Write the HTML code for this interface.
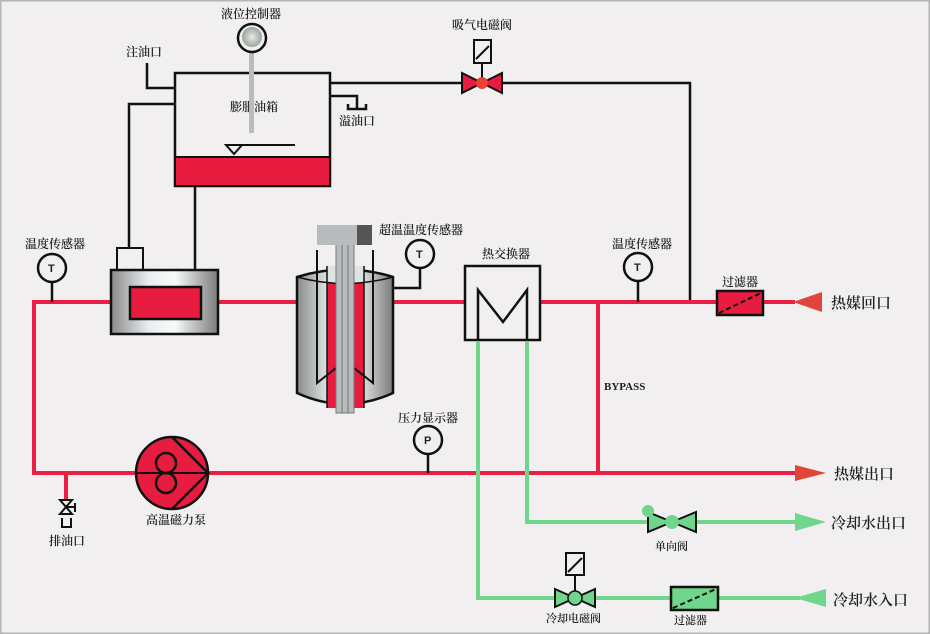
<!DOCTYPE html>
<html><head><meta charset="utf-8"><style>
html,body{margin:0;padding:0;background:#f1eff0}
svg{display:block}
text{font-family:"Liberation Serif","Noto Serif CJK SC","Noto Sans CJK SC",serif;fill:#222;font-weight:600}
</style></head><body>
<svg width="930" height="634" viewBox="0 0 930 634" xmlns="http://www.w3.org/2000/svg">
<defs>
<linearGradient id="met" x1="0" y1="0" x2="1" y2="0">
<stop offset="0" stop-color="#8a8a8a"/><stop offset="0.35" stop-color="#e8eef0"/><stop offset="0.6" stop-color="#f8fbfb"/><stop offset="1" stop-color="#7a7a7a"/>
</linearGradient>
<radialGradient id="dial"><stop offset="0" stop-color="#e8ece8"/><stop offset="1" stop-color="#9aa69a"/></radialGradient>
</defs>
<rect x="0" y="0" width="930" height="634" fill="#f1eff0"/>
<rect x="0.5" y="0.5" width="929" height="633" fill="none" stroke="#b5b5b5" stroke-width="2"/>

<g stroke="#111" stroke-width="2.5" fill="none">
<polyline points="147,63 147,88 175,88"/>
<polyline points="175,104 129,104 129,248"/>
<line x1="195" y1="186" x2="195" y2="270"/>
<polyline points="330,83 690,83 690,302"/>
<polyline points="330,96 357,96 357,108"/>
<polyline points="348,104 348,109 366,109 366,104"/>
</g>
<rect x="175" y="73" width="155" height="113" fill="#f1eff0" stroke="#111" stroke-width="2.5"/>
<rect x="176" y="157" width="153" height="28" fill="#e81c3f"/>
<line x1="175" y1="157" x2="330" y2="157" stroke="#111" stroke-width="2"/>
<line x1="226" y1="145" x2="295" y2="145" stroke="#111" stroke-width="2"/>
<polygon points="226,145 242,145 234,154" fill="none" stroke="#111" stroke-width="2"/>
<text x="230" y="111" font-size="12">膨胀油箱</text>
<rect x="249" y="48" width="5" height="85" fill="#bbb"/>
<circle cx="252" cy="38" r="14" fill="#f1eff0" stroke="#111" stroke-width="2.5"/>
<circle cx="252" cy="37" r="10" fill="url(#dial)"/>
<text x="221" y="18" font-size="12">液位控制器</text>
<text x="126" y="56" font-size="12">注油口</text>
<text x="339" y="125" font-size="12">溢油口</text>

<g stroke="#ea1f43" stroke-width="4" fill="none">
<polyline points="110,302 34,302 34,473 135,473"/>
<line x1="218" y1="302" x2="297" y2="302"/>
<line x1="393" y1="302" x2="465" y2="302"/>
<line x1="540" y1="302" x2="717" y2="302"/>
<line x1="763" y1="302" x2="795" y2="302"/>
<line x1="208" y1="473" x2="800" y2="473"/>
<line x1="598" y1="302" x2="598" y2="473"/>
<line x1="66" y1="473" x2="66" y2="500"/>
</g>
<polygon points="793,302 822,292 822,312" fill="#e0453a"/>
<polygon points="795,465 795,481 826,473" fill="#e0453a"/>
<text x="831" y="308" font-size="15">热媒回口</text>
<text x="834" y="479" font-size="15">热媒出口</text>

<rect x="117" y="248" width="26" height="22" fill="#f1eff0" stroke="#111" stroke-width="2"/>
<rect x="111" y="270" width="107" height="64" fill="url(#met)" stroke="#111" stroke-width="2.5"/>
<rect x="130" y="287" width="71" height="32" fill="#e81c3f" stroke="#111" stroke-width="2.5"/>

<path d="M297,277 Q345,262 393,277 L393,393 Q345,415 297,393 Z" fill="url(#met)" stroke="#111" stroke-width="2.5"/>
<rect x="327" y="283" width="37" height="125" fill="#e81c3f"/>
<rect x="327" y="266" width="37" height="17" fill="#dfe3e4"/>
<path d="M297,277 Q345,290 393,277" fill="none" stroke="#111" stroke-width="1.5"/>
<line x1="327" y1="266" x2="327" y2="408" stroke="#111" stroke-width="1.5"/>
<line x1="364" y1="266" x2="364" y2="408" stroke="#111" stroke-width="1.5"/>
<g stroke="#111" stroke-width="2" fill="none">
<polyline points="317,250 317,383 336,368"/>
<polyline points="373,250 373,383 354,368"/>
</g>
<rect x="336" y="243" width="18" height="170" fill="#b8bcbe" stroke="#777" stroke-width="1"/>
<line x1="342" y1="243" x2="342" y2="413" stroke="#777"/>
<line x1="348" y1="243" x2="348" y2="413" stroke="#777"/>
<rect x="317" y="225" width="40" height="20" fill="#b9bcbe"/>
<rect x="357" y="225" width="15" height="20" fill="#555"/>

<g stroke="#111" stroke-width="2.5" fill="#f1eff0">
<line x1="52" y1="282" x2="52" y2="302"/>
<circle cx="52" cy="268" r="14"/>
<polyline points="393,288 420,288 420,268" fill="none"/>
<circle cx="420" cy="254" r="14"/>
<line x1="638" y1="281" x2="638" y2="302"/>
<circle cx="638" cy="267" r="14"/>
<line x1="428" y1="454" x2="428" y2="473"/>
<circle cx="428" cy="440" r="14"/>
</g>
<g font-size="11">
<text x="48" y="272" style="font-family:Liberation Sans,sans-serif">T</text>
<text x="416" y="258" style="font-family:Liberation Sans,sans-serif">T</text>
<text x="634" y="271" style="font-family:Liberation Sans,sans-serif">T</text>
<text x="424" y="444" style="font-family:Liberation Sans,sans-serif">P</text>
</g>
<text x="25" y="248" font-size="12">温度传感器</text>
<text x="379" y="234" font-size="12">超温温度传感器</text>
<text x="612" y="248" font-size="12">温度传感器</text>
<text x="398" y="422" font-size="12">压力显示器</text>
<text x="604" y="390" font-size="11" style="font-family:Liberation Serif,serif">BYPASS</text>

<rect x="465" y="266" width="75" height="74" fill="#f1eff0" stroke="#111" stroke-width="2.5"/>
<polyline points="478,340 478,290 503,322 527,290 527,340" fill="none" stroke="#111" stroke-width="2.5"/>
<text x="482" y="258" font-size="12">热交换器</text>

<g stroke="#6fd68c" stroke-width="4" fill="none">
<polyline points="478,341 478,598 800,598"/>
<polyline points="527,341 527,522 800,522"/>
</g>
<polygon points="795,513 795,531 826,522" fill="#6fd68c"/>
<polygon points="795,598 826,589 826,607" fill="#6fd68c"/>
<text x="831" y="528" font-size="15">冷却水出口</text>
<text x="833" y="605" font-size="15">冷却水入口</text>

<g stroke="#111" stroke-width="2" fill="#6fd68c">
<polygon points="648,512 648,532 672,522"/>
<polygon points="696,512 696,532 672,522"/>
</g>
<circle cx="672" cy="522" r="7" fill="#6fd68c"/>
<circle cx="648" cy="511" r="6" fill="#6fd68c"/>
<text x="655" y="550" font-size="11">单向阀</text>

<line x1="575" y1="574" x2="575" y2="598" stroke="#111" stroke-width="2"/>
<rect x="566" y="553" width="18" height="22" fill="#f1eff0" stroke="#111" stroke-width="2"/>
<line x1="568" y1="572" x2="582" y2="558" stroke="#111" stroke-width="2"/>
<g stroke="#111" stroke-width="2" fill="#6fd68c">
<polygon points="555,589 555,607 575,598"/>
<polygon points="595,589 595,607 575,598"/>
</g>
<circle cx="575" cy="598" r="7" fill="#6fd68c" stroke="#111" stroke-width="1.5"/>
<text x="546" y="622" font-size="11">冷却电磁阀</text>

<rect x="671" y="587" width="47" height="23" fill="#6fd68c" stroke="#111" stroke-width="2.5"/>
<line x1="673" y1="608" x2="716" y2="589" stroke="#111" stroke-width="2" stroke-dasharray="5,3"/>
<text x="674" y="624" font-size="11">过滤器</text>

<rect x="717" y="291" width="46" height="24" fill="#e81c3f" stroke="#111" stroke-width="2.5"/>
<line x1="719" y1="313" x2="761" y2="293" stroke="#111" stroke-width="2" stroke-dasharray="5,3"/>
<text x="722" y="286" font-size="12">过滤器</text>

<line x1="482" y1="62" x2="482" y2="83" stroke="#111" stroke-width="2"/>
<rect x="474" y="40" width="17" height="23" fill="#f1eff0" stroke="#111" stroke-width="2"/>
<line x1="476" y1="59" x2="489" y2="46" stroke="#111" stroke-width="2"/>
<g stroke="#111" stroke-width="2" fill="#e81c3f">
<polygon points="462,73 462,93 482,83"/>
<polygon points="502,73 502,93 482,83"/>
</g>
<circle cx="482" cy="83" r="6" fill="#f04030"/>
<text x="452" y="29" font-size="12">吸气电磁阀</text>

<circle cx="172" cy="473" r="36" fill="#e81c3f" stroke="#111" stroke-width="2.5"/>
<line x1="136" y1="473" x2="208" y2="473" stroke="#111" stroke-width="2"/>
<polyline points="172,437 208,473 172,509" fill="none" stroke="#111" stroke-width="2.5"/>
<circle cx="166" cy="463" r="10" fill="none" stroke="#111" stroke-width="2.5"/>
<circle cx="166" cy="483" r="10" fill="none" stroke="#111" stroke-width="2.5"/>
<text x="146" y="524" font-size="12">高温磁力泵</text>

<g stroke="#111" stroke-width="2" fill="none">
<polygon points="60,500 72,500 60,514 72,514"/>
<line x1="75" y1="503" x2="75" y2="512"/>
<line x1="66" y1="507" x2="75" y2="507"/>
<polyline points="62,518 62,527 71,527 71,518"/>
</g>
<text x="49" y="545" font-size="12">排油口</text>
</svg>
</body></html>
